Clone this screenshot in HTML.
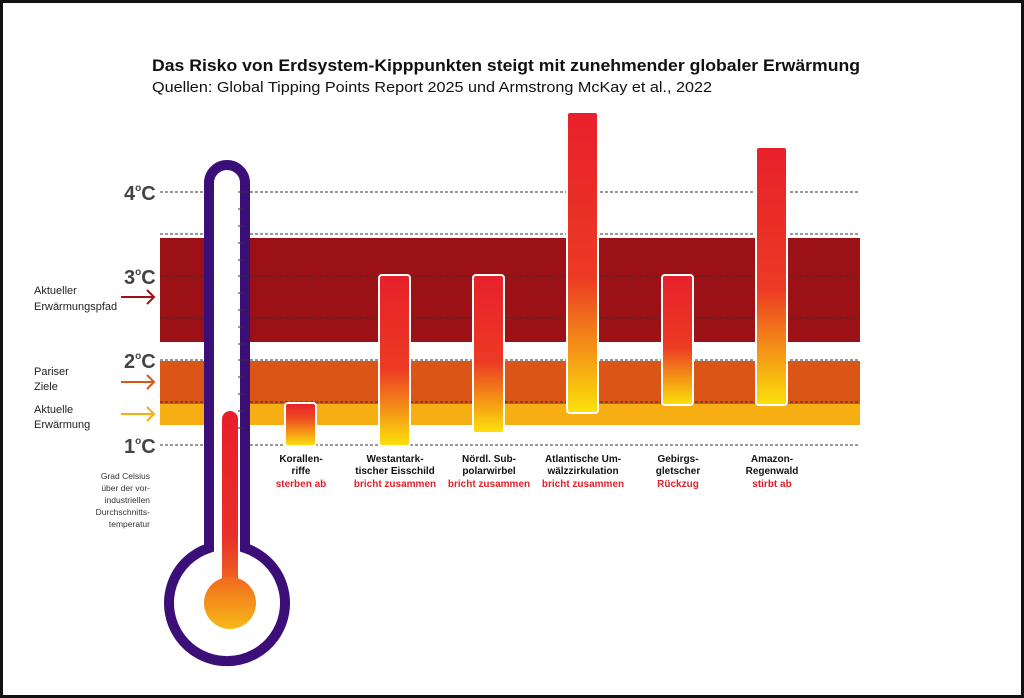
<!DOCTYPE html>
<html><head><meta charset="utf-8"><style>
html,body{margin:0;padding:0;background:#fff}
svg{display:block}
text{font-family:"Liberation Sans",sans-serif}
</style></head><body>
<svg width="1024" height="698" viewBox="0 0 1024 698" xmlns="http://www.w3.org/2000/svg">
<defs>
<linearGradient id="bar" x1="0" y1="0" x2="0" y2="1">
<stop offset="0" stop-color="#e8202a"/><stop offset="0.55" stop-color="#ec3a24"/><stop offset="1" stop-color="#fbe20a"/>
</linearGradient>
<linearGradient id="bar2" x1="0" y1="0" x2="0" y2="1">
<stop offset="0" stop-color="#e8202a"/><stop offset="0.35" stop-color="#ee4a22"/><stop offset="1" stop-color="#fbe20a"/>
</linearGradient>
<linearGradient id="col" x1="0" y1="0" x2="0" y2="1">
<stop offset="0" stop-color="#e81e2a"/><stop offset="0.7" stop-color="#e8302a"/><stop offset="1" stop-color="#f07020"/>
</linearGradient>
<linearGradient id="bulb" x1="0" y1="0" x2="0" y2="1">
<stop offset="0" stop-color="#f06a1e"/><stop offset="1" stop-color="#f8b818"/>
</linearGradient>
</defs>
<rect x="1.5" y="1.5" width="1021" height="695" fill="#fff" stroke="#111" stroke-width="3"/>
<text x="152" y="71" font-size="17" font-weight="bold" fill="#111" textLength="708" lengthAdjust="spacingAndGlyphs">Das Risko von Erdsystem-Kipppunkten steigt mit zunehmender globaler Erwärmung</text>
<text x="152" y="92" font-size="15" fill="#111" textLength="560" lengthAdjust="spacingAndGlyphs">Quellen: Global Tipping Points Report 2025 und Armstrong McKay et al., 2022</text>
<!-- bands -->
<rect x="160" y="238" width="700" height="104" fill="#9c1116"/>
<rect x="160" y="361" width="700" height="43" fill="#da5516"/>
<rect x="160" y="404" width="700" height="21" fill="#f6ae12"/>
<!-- dashed lines -->
<g stroke="#333" stroke-width="1" stroke-dasharray="3,2">
<line x1="160" y1="192" x2="860" y2="192"/><line x1="160" y1="234" x2="860" y2="234"/>
<line x1="160" y1="276" x2="860" y2="276"/><line x1="160" y1="318" x2="860" y2="318"/>
<line x1="160" y1="360" x2="860" y2="360"/><line x1="160" y1="402" x2="860" y2="402"/>
<line x1="160" y1="445" x2="860" y2="445"/>
</g>
<!-- degree labels -->
<g font-size="20" font-weight="bold" fill="#444">
<text x="124" y="200">4<tspan font-size="10" dy="-9">o</tspan><tspan dy="9">C</tspan></text>
<text x="124" y="284">3<tspan font-size="10" dy="-9">o</tspan><tspan dy="9">C</tspan></text>
<text x="124" y="368">2<tspan font-size="10" dy="-9">o</tspan><tspan dy="9">C</tspan></text>
<text x="124" y="453">1<tspan font-size="10" dy="-9">o</tspan><tspan dy="9">C</tspan></text>
</g>
<g font-size="11" fill="#222">
<text x="34" y="294">Aktueller</text><text x="34" y="310">Erwärmungspfad</text>
<text x="34" y="375">Pariser</text><text x="34" y="390">Ziele</text>
<text x="34" y="413">Aktuelle</text><text x="34" y="428">Erwärmung</text>
</g>
<g font-size="8.5" fill="#333" text-anchor="end">
<text x="150" y="479">Grad Celsius</text><text x="150" y="491">über der vor-</text>
<text x="150" y="503">industriellen</text><text x="150" y="515">Durchschnitts-</text>
<text x="150" y="527">temperatur</text>
</g>
<!-- arrows -->
<g fill="none" stroke-width="2">
<path d="M121 297H154M147 290L154 297L147 304" stroke="#9c1116"/>
<path d="M121 382H154M147 375L154 382L147 389" stroke="#da5516"/>
<path d="M121 414H154M147 407L154 414L147 421" stroke="#f6ae12"/>
</g>
<!-- thermometer -->
<path d="M209 548V183A18 18 0 0 1 245 183V548A58 58 0 1 1 209 548Z" fill="#fff" stroke="#3c0f78" stroke-width="10"/>
<g stroke="#333" stroke-width="1">
<line x1="238" y1="192" x2="247" y2="192"/><line x1="238" y1="209" x2="245" y2="209"/><line x1="238" y1="226" x2="245" y2="226"/>
<line x1="238" y1="243" x2="245" y2="243"/><line x1="238" y1="260" x2="245" y2="260"/><line x1="238" y1="276" x2="247" y2="276"/>
<line x1="238" y1="293" x2="245" y2="293"/><line x1="238" y1="310" x2="245" y2="310"/><line x1="238" y1="327" x2="245" y2="327"/>
<line x1="238" y1="344" x2="245" y2="344"/><line x1="238" y1="360" x2="247" y2="360"/><line x1="238" y1="377" x2="245" y2="377"/>
<line x1="238" y1="394" x2="245" y2="394"/><line x1="238" y1="411" x2="245" y2="411"/><line x1="238" y1="428" x2="245" y2="428"/>
</g>
<rect x="222" y="411" width="16" height="180" rx="8" fill="url(#col)"/>
<circle cx="230" cy="603" r="26" fill="url(#bulb)"/>
<!-- bars -->
<g stroke="#fff" stroke-width="2">
<rect x="285" y="403" width="31" height="43" rx="3" fill="url(#bar2)"/>
<rect x="379" y="275" width="31" height="171" rx="3" fill="url(#bar)"/>
<rect x="473" y="275" width="31" height="158" rx="3" fill="url(#bar)"/>
<rect x="567" y="112" width="31" height="301" rx="3" fill="url(#bar)"/>
<rect x="662" y="275" width="31" height="130" rx="3" fill="url(#bar)"/>
<rect x="756" y="147" width="31" height="258" rx="3" fill="url(#bar)"/>
</g>
<g font-size="10" font-weight="bold" text-anchor="middle" fill="#111">
<text x="301" y="462">Korallen-</text><text x="301" y="474">riffe</text>
<text x="395" y="462">Westantark-</text><text x="395" y="474">tischer Eisschild</text>
<text x="489" y="462">Nördl. Sub-</text><text x="489" y="474">polarwirbel</text>
<text x="583" y="462">Atlantische Um-</text><text x="583" y="474">wälzzirkulation</text>
<text x="678" y="462">Gebirgs-</text><text x="678" y="474">gletscher</text>
<text x="772" y="462">Amazon-</text><text x="772" y="474">Regenwald</text>
</g>
<g font-size="10" font-weight="bold" text-anchor="middle" fill="#e2202a">
<text x="301" y="487">sterben ab</text>
<text x="395" y="487">bricht zusammen</text>
<text x="489" y="487">bricht zusammen</text>
<text x="583" y="487">bricht zusammen</text>
<text x="678" y="487">Rückzug</text>
<text x="772" y="487">stirbt ab</text>
</g>
</svg>
</body></html>
